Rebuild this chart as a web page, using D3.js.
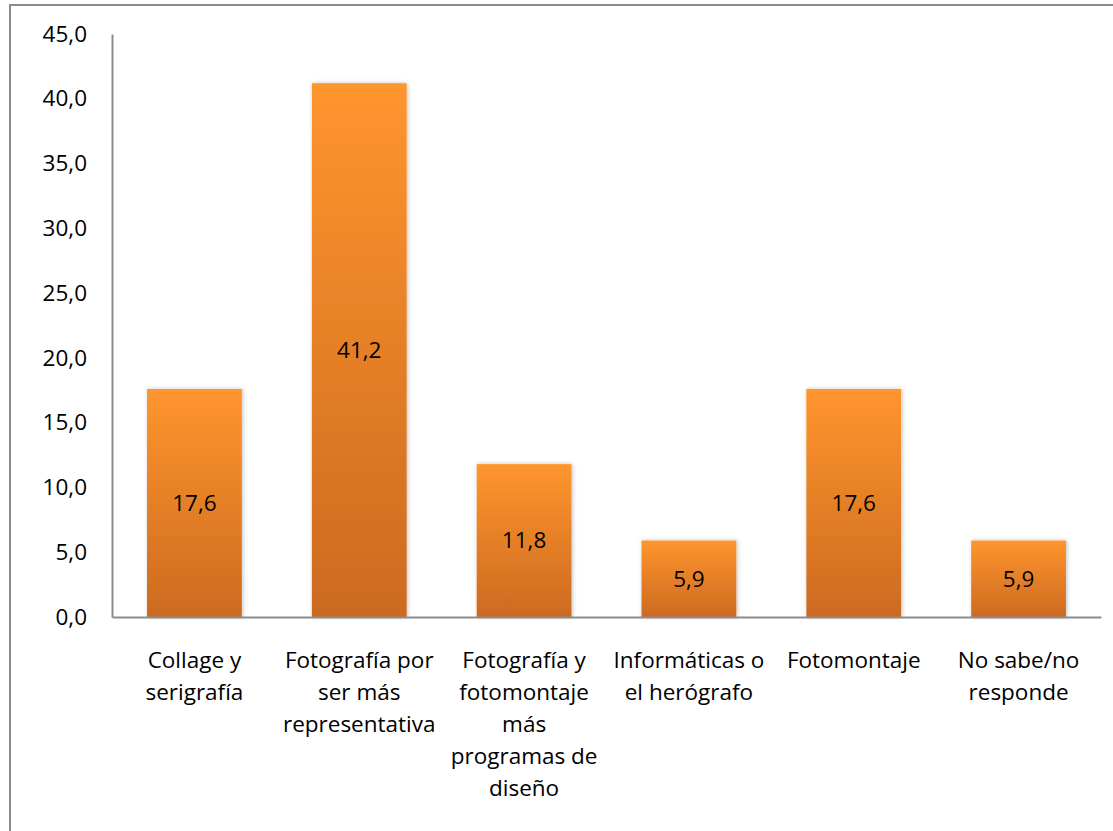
<!DOCTYPE html>
<html><head><meta charset="utf-8">
<script src="https://cdn.jsdelivr.net/npm/d3@7"></script>
<style>
html,body{margin:0;padding:0;background:#fff;}
svg{display:block;}
text{font-family:"Open Sans",sans-serif;fill:#000;}
</style></head>
<body>
<svg id="chart" width="1113" height="831"></svg>
<script>
const categories = ["Collage y\nserigrafía","Fotografía por\nser más\nrepresentativa","Fotografía y\nfotomontaje\nmás\nprogramas de\ndiseño","Informáticas o\nel herógrafo","Fotomontaje","No sabe/no\nresponde"];
const values = [17.6, 41.2, 11.8, 5.9, 17.6, 5.9];
const valueLabels = ["17,6","41,2","11,8","5,9","17,6","5,9"];
const yTicks = [0,5,10,15,20,25,30,35,40,45];

const svg = d3.select("#chart");
const fs = 22.5;
const m = {left:112, right:1101, top:34, bottom:617};

const defs = svg.append("defs");
const grad = defs.append("linearGradient").attr("id","barGrad").attr("x1",0).attr("y1",0).attr("x2",0).attr("y2",1);
grad.append("stop").attr("offset","0%").attr("stop-color","#FF952E");
grad.append("stop").attr("offset","100%").attr("stop-color","#CC6A20");
const filt = defs.append("filter").attr("id","shadow").attr("x","-10%").attr("y","-10%").attr("width","130%").attr("height","120%");
filt.append("feDropShadow").attr("dx",1).attr("dy",0).attr("stdDeviation",2).attr("flood-color","#000").attr("flood-opacity",0.25);

// outer border
svg.append("rect").attr("x",10).attr("y",5).attr("width",1120).attr("height",840)
  .attr("fill","none").attr("stroke","#8c8c8c").attr("stroke-width",2);

const x = d3.scaleBand().domain(categories).range([m.left, m.right]).paddingInner(0.425).paddingOuter(0.2125);
const y = d3.scaleLinear().domain([0,45]).range([m.bottom, m.top]);

// bars
svg.append("g").selectAll("rect").data(values).join("rect")
  .attr("x",(d,i)=>x(categories[i])).attr("width",x.bandwidth())
  .attr("y",d=>y(d)).attr("height",d=>y(0)-y(d))
  .attr("fill","url(#barGrad)").attr("filter","url(#shadow)");

// value labels
svg.append("g").selectAll("text").data(values).join("text")
  .attr("x",(d,i)=>x(categories[i])+x.bandwidth()/2)
  .attr("y",d=>(y(d)+y(0))/2).attr("dy","0.35em")
  .attr("text-anchor","middle").attr("font-size",fs)
  .text((d,i)=>valueLabels[i]);

// y axis
const yAxis = d3.axisLeft(y).tickValues(yTicks).tickSize(0).tickPadding(25)
  .tickFormat(d=>d3.format(".1f")(d).replace(".",","));
const gy = svg.append("g").attr("transform",`translate(${m.left},0)`).call(yAxis);
gy.select(".domain").attr("stroke","#8c8c8c").attr("stroke-width",2);
gy.selectAll("text").attr("font-size",fs).attr("font-family","'Open Sans',sans-serif").attr("fill","#000");

// x axis
const xAxis = d3.axisBottom(x).tickSize(0).tickFormat("");
const gx = svg.append("g").attr("transform",`translate(0,${m.bottom})`).call(xAxis);
gx.select(".domain").attr("stroke","#8c8c8c").attr("stroke-width",2);

// category labels
const lineH = 32;
const cl = svg.append("g").selectAll("text").data(categories).join("text")
  .attr("text-anchor","middle").attr("font-size",fs)
  .attr("x",d=>x(d)+x.bandwidth()/2).attr("y",660);
cl.each(function(d){
  const t = d3.select(this);
  d.split("\n").forEach((ln,i)=>{
    t.append("tspan").attr("x",x(d)+x.bandwidth()/2).attr("y",660+i*lineH).attr("dy","0.35em").text(ln);
  });
});
</script>
</body></html>
